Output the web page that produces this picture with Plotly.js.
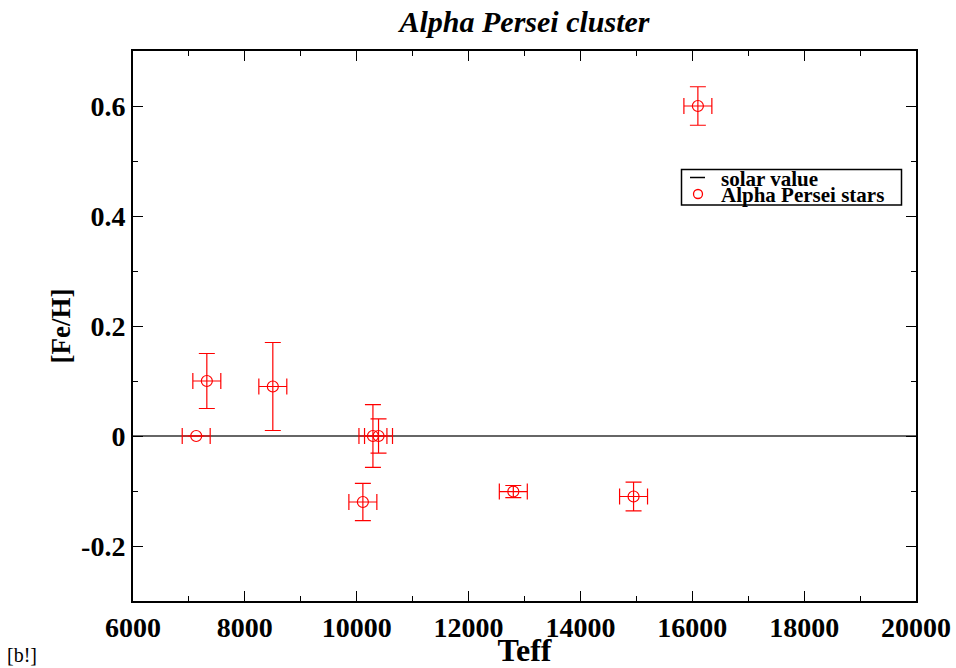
<!DOCTYPE html>
<html><head><meta charset="utf-8">
<script src="https://cdn.plot.ly/plotly-3.0.1.min.js"></script>
<style>body{margin:0;padding:0;background:#fff}#plot{width:956px;height:668px}</style>
</head><body><div id="plot"></div>
<script>
const teff = [7130, 7320, 8500, 10110, 10290, 10390, 12800, 14950, 16100];
const feh = [0.0, 0.10, 0.09, -0.12, 0.0, 0.0, -0.101, -0.11, 0.60];
const fehErr = [0.0, 0.05, 0.08, 0.034, 0.057, 0.031, 0.011, 0.026, 0.035];
const teffErr = [250, 250, 250, 250, 250, 250, 250, 250, 250];
const solarX = [6000, 20000];
const solarY = [0, 0];
const xTickVals = [6000, 8000, 10000, 12000, 14000, 16000, 18000, 20000];
const yTickVals = [-0.2, 0, 0.2, 0.4, 0.6];
const yTickText = ['-0.2', '0', '0.2', '0.4', '0.6'];
const legendNames = ['solar value', 'Alpha Persei stars'];

const serif = "Liberation Serif, Times New Roman, serif";
const data = [
  {x: solarX, y: solarY, mode: 'lines', name: legendNames[0], showlegend: false,
   line: {color: '#333', width: 1.5}},
  {x: teff, y: feh, mode: 'markers', name: legendNames[1], showlegend: false,
   marker: {symbol: 'circle-open', size: 11, color: 'red', line: {width: 1.2, color: 'red'}},
   error_y: {type: 'data', array: fehErr, visible: true, color: 'red', thickness: 1.2, width: 8},
   error_x: {type: 'data', array: teffErr, visible: true, color: 'red', thickness: 1.2, width: 8}}
];
const L = 133, R = 40, T = 51, B = 67, W = 956, H = 668;
const pw = W - L - R, ph = H - T - B;
const px = v => (v - L) / pw;
const py = v => (H - B - v) / ph;
const axisCommon = {
  showgrid: false, zeroline: false, showline: true, linecolor: 'black', linewidth: 2,
  mirror: 'allticks', ticks: 'inside', ticklen: 10, tickwidth: 1, tickcolor: 'black',
  tickfont: {family: serif, size: 28, color: 'black', weight: 'bold'}
};
const layout = {
  width: W, height: H,
  margin: {l: L, r: R, t: T, b: B},
  paper_bgcolor: 'white', plot_bgcolor: 'white',
  showlegend: false,
  title: {text: 'Alpha Persei cluster', x: 0.5, xref: 'paper', xanchor: 'center',
    y: 1 - 21 / H, yanchor: 'middle',
    font: {family: serif, size: 30, color: 'black', weight: 'bold', style: 'italic'}},
  xaxis: Object.assign({}, axisCommon, {
    range: [6000, 20000], tickvals: xTickVals, tickformat: 'd',
    minor: {dtick: 1000, ticks: 'inside', ticklen: 5, tickcolor: 'black'},
    title: {text: 'Teff', standoff: 0, font: {family: serif, size: 32, color: 'black', weight: 'bold'}}
  }),
  yaxis: Object.assign({}, axisCommon, {
    range: [-0.3, 0.7], tickvals: yTickVals, ticktext: yTickText,
    minor: {dtick: 0.1, tick0: 0, ticks: 'inside', ticklen: 5, tickcolor: 'black'},
    title: {text: '[Fe/H]', standoff: 3, font: {family: serif, size: 27, color: 'black', weight: 'bold'}}
  }),
  shapes: [
    {type: 'rect', xref: 'paper', yref: 'paper', x0: px(681.5), x1: px(901.5), y0: py(205), y1: py(169.5),
     line: {color: 'black', width: 1.5}, fillcolor: 'white', layer: 'above'},
    {type: 'line', xref: 'paper', yref: 'paper', x0: px(690), x1: px(705), y0: py(177.5), y1: py(177.5),
     line: {color: 'black', width: 1.5}, layer: 'above'},
    {type: 'circle', xref: 'paper', yref: 'paper', xsizemode: 'pixel', ysizemode: 'pixel',
     xanchor: px(698), yanchor: py(194), x0: -4.5, x1: 4.5, y0: -4.5, y1: 4.5,
     line: {color: 'red', width: 1.3}, layer: 'above'}
  ],
  annotations: [
    {text: legendNames[0], xref: 'paper', yref: 'paper', x: px(719), y: py(179),
     xanchor: 'left', yanchor: 'middle', showarrow: false,
     font: {family: serif, size: 21, color: 'black', weight: 'bold'}},
    {text: legendNames[1], xref: 'paper', yref: 'paper', x: px(719), y: py(195),
     xanchor: 'left', yanchor: 'middle', showarrow: false,
     font: {family: serif, size: 21, color: 'black', weight: 'bold'}},
    {text: '[b!]', xref: 'paper', yref: 'paper', x: px(5), y: py(655),
     xanchor: 'left', yanchor: 'middle', showarrow: false,
     font: {family: serif, size: 20, color: 'black'}}
  ]
};
Plotly.newPlot('plot', data, layout, {displayModeBar: false});
</script></body></html>
